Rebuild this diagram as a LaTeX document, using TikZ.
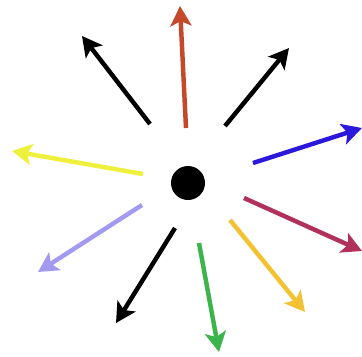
\documentclass[tikz,border=0pt]{standalone}
\usepackage{tikz}
\usetikzlibrary{arrows.meta,positioning,calc}

\definecolor{rustred}{HTML}{C4482A}
\definecolor{deepblue}{HTML}{2A18DC}
\definecolor{crimson}{HTML}{B0325C}
\definecolor{golden}{HTML}{F2C232}
\definecolor{leafgreen}{HTML}{3CB44C}
\definecolor{lavender}{HTML}{A29AF0}
\definecolor{lemon}{HTML}{EEF03C}

\tikzset{
  ray/.style={line width=3.8pt, -{Stealth[length=17pt,width=18pt,inset=4pt]}},
}

\begin{document}
\begin{tikzpicture}[x=0.03cm, y=-0.03cm]
    % page frame, in pixel units
    \useasboundingbox (0,0) rectangle (362,356);
    % the charge
    \node[circle, fill=black, inner sep=0pt, minimum size=1.02cm] (q) at (188,183) {};
    % tails and tips of the field lines
    \coordinate (rs) at (186,128);  \coordinate (re) at (180,6);
    \coordinate (ks) at (225,126);  \coordinate (ke) at (289,48);
    \coordinate (bs) at (253,163);  \coordinate (be) at (362,128);
    \coordinate (cs) at (244,198);  \coordinate (ce) at (362,251);
    \coordinate (gs) at (230,220);  \coordinate (ge) at (305,312);
    \coordinate (ls) at (199,243);  \coordinate (le) at (219,352);
    \coordinate (ms) at (175,228);  \coordinate (me) at (116,323);
    \coordinate (vs) at (142,205);  \coordinate (ve) at (38,272);
    \coordinate (ys) at (143,174);  \coordinate (ye) at (12,151);
    \coordinate (us) at (150,124);  \coordinate (ue) at (82,36);
    % arrows
    \draw[ray, rustred] (rs) -- (re);
    \draw[ray, black] (ks) -- (ke);
    \draw[ray, deepblue] (bs) -- (be);
    \draw[ray, crimson] (cs) -- (ce);
    \draw[ray, golden] (gs) -- (ge);
    \draw[ray, leafgreen] (ls) -- (le);
    \draw[ray, black] (ms) -- (me);
    \draw[ray, lavender] (vs) -- (ve);
    \draw[ray, lemon] (ys) -- (ye);
    \draw[ray, black] (us) -- (ue);
\end{tikzpicture}
\end{document}
